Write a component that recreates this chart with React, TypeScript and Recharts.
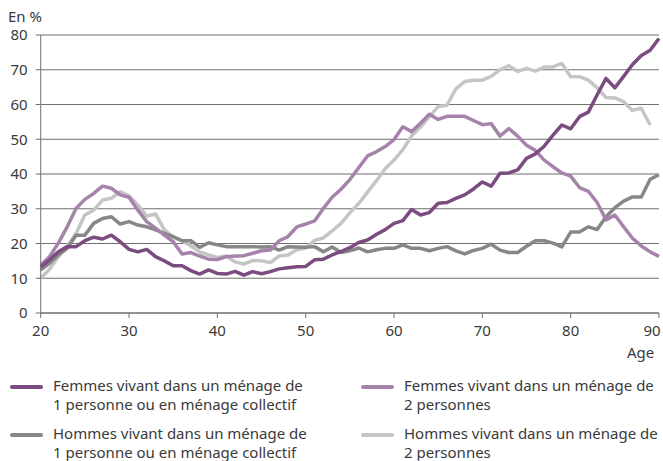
import React from 'react';
import { LineChart, Line, XAxis, YAxis, CartesianGrid } from 'recharts';

const ages = [
  20, 21, 22, 23, 24, 25, 26, 27, 28, 29, 30, 31, 32, 33, 34, 35, 36, 37, 38, 39,
  40, 41, 42, 43, 44, 45, 46, 47, 48, 49, 50, 51, 52, 53, 54, 55, 56, 57, 58, 59,
  60, 61, 62, 63, 64, 65, 66, 67, 68, 69, 70, 71, 72, 73, 74, 75, 76, 77, 78, 79,
  80, 81, 82, 83, 84, 85, 86, 87, 88, 89, 90,
];

const femmes1 = [
  13.3, 15.3, 17.6, 19.1, 19.1, 20.8, 21.8, 21.3, 22.4, 20.5, 18.3, 17.6, 18.3, 16.2, 15.0, 13.6, 13.6, 12.2, 11.2, 12.4,
  11.4, 11.2, 12.0, 10.9, 11.9, 11.3, 11.9, 12.7, 13.0, 13.3, 13.4, 15.3, 15.5, 16.7, 17.7, 18.8, 20.3, 21.0, 22.6, 24.0,
  25.8, 26.6, 29.8, 28.2, 28.9, 31.6, 31.8, 33.0, 34.0, 35.7, 37.7, 36.5, 40.2, 40.3, 41.2, 44.5, 45.8, 48.0, 51.2, 54.1,
  53.0, 56.5, 57.8, 62.8, 67.5, 64.8, 68.1, 71.5, 74.1, 75.6, 79.0,
];

const femmes2 = [
  13.8, 16.2, 20.1, 24.8, 30.1, 32.7, 34.4, 36.5, 35.9, 34.0, 33.3, 29.6, 26.3, 24.4, 22.4, 20.5, 17.0, 17.4, 16.4, 15.5,
  15.4, 16.2, 16.4, 16.5, 17.2, 17.9, 18.1, 20.8, 22.0, 24.8, 25.6, 26.5, 30.1, 33.3, 35.6, 38.4, 41.8, 45.2, 46.4, 47.9,
  49.9, 53.6, 52.2, 54.6, 57.2, 55.7, 56.6, 56.6, 56.6, 55.4, 54.2, 54.5, 50.9, 53.1, 50.9, 48.3, 46.8, 44.0, 42.1, 40.3,
  39.4, 36.1, 35.0, 31.8, 26.8, 28.2, 24.8, 21.5, 19.3, 17.6, 16.3,
];

const hommes1 = [
  12.4, 14.3, 16.7, 18.6, 22.4, 22.4, 25.8, 27.2, 27.7, 25.6, 26.3, 25.3, 24.8, 23.9, 22.9, 22.0, 20.8, 20.8, 18.9, 20.2,
  19.6, 19.1, 19.1, 19.1, 19.1, 19.0, 19.1, 18.1, 19.1, 19.0, 18.9, 19.1, 17.6, 19.0, 17.4, 17.9, 18.7, 17.6, 18.2, 18.6,
  18.6, 19.6, 18.6, 18.6, 17.9, 18.6, 19.1, 17.9, 17.0, 18.0, 18.6, 19.8, 18.1, 17.4, 17.4, 19.2, 20.8, 20.8, 20.1, 19.0,
  23.3, 23.3, 24.8, 24.0, 27.7, 30.3, 32.2, 33.4, 33.4, 38.5, 39.8,
];

const hommes2 = [
  10.0, 12.6, 16.2, 19.1, 22.9, 28.2, 29.6, 32.5, 33.0, 34.9, 33.7, 31.1, 27.9, 28.5, 23.9, 21.8, 20.8, 19.3, 17.6, 16.7,
  16.0, 16.4, 14.7, 14.1, 15.1, 15.0, 14.5, 16.4, 16.7, 18.2, 18.7, 20.9, 21.6, 23.6, 25.8, 28.8, 31.5, 34.8, 38.0, 41.5,
  44.0, 47.0, 51.0, 53.5, 56.5, 59.4, 59.8, 64.5, 66.6, 67.0, 67.0, 68.1, 70.0, 71.2, 69.5, 70.4, 69.6, 70.8, 70.8, 71.8,
  68.0, 68.0, 67.0, 64.8, 62.0, 61.9, 60.8, 58.3, 58.9, 54.1, null,
];

const xTicks = [20, 30, 40, 50, 60, 70, 80, 90];
const yTicks = [0, 10, 20, 30, 40, 50, 60, 70, 80];

const seriesNames = [
  'Femmes vivant dans un ménage de 1 personne ou en ménage collectif',
  'Femmes vivant dans un ménage de 2 personnes',
  'Hommes vivant dans un ménage de 1 personne ou en ménage collectif',
  'Hommes vivant dans un ménage de 2 personnes',
];

const legendLines = [
  ['Femmes vivant dans un ménage de', '1 personne ou en ménage collectif'],
  ['Femmes vivant dans un ménage de', '2 personnes'],
  ['Hommes vivant dans un ménage de', '1 personne ou en ménage collectif'],
  ['Hommes vivant dans un ménage de', '2 personnes'],
];

const colors = ['#7b4c80', '#a683aa', '#878787', '#c5c5c5'];
const keys = ['f1', 'f2', 'h1', 'h2'];

const data = ages.map((age, i) => ({
  age,
  f1: femmes1[i],
  f2: femmes2[i],
  h1: hommes1[i],
  h2: hommes2[i],
}));

const FONT = '"Noto Sans", sans-serif';
const TEXT = '#3a3a3a';

const legendPos = [
  { left: 10, top: 376 },
  { left: 361, top: 376 },
  { left: 10, top: 424 },
  { left: 361, top: 424 },
];

const XTick = (props: any) => {
  const { x, y, payload } = props;
  const last = payload.value === 90;
  return (
    <text
      x={last ? x - 7 : x}
      y={y}
      dy="0.71em"
      textAnchor="middle"
      fill={TEXT}
      fontSize={15}
      fontFamily={FONT}
    >
      {payload.value}
    </text>
  );
};

export default function App() {
  return (
    <div style={{ position: 'absolute', left: 0, top: 0, width: 663, height: 461, background: '#fff', overflow: 'hidden', fontFamily: FONT }}>
      <div style={{ position: 'absolute', left: 8, top: 7, fontSize: 15, color: TEXT, lineHeight: '18px' }}>En %</div>
      <LineChart
        width={663}
        height={345}
        data={data}
        margin={{ top: 35, right: 4, left: 0, bottom: 0 }}
        style={{ position: 'absolute', left: 0, top: 0, overflow: 'visible' }}
      >
        <CartesianGrid horizontal vertical={false} stroke="#6f6f6f" strokeWidth={1} />
        <XAxis
          dataKey="age"
          type="number"
          domain={[20, 90]}
          ticks={xTicks}
          height={32}
          tickSize={5}
          tickMargin={7}
          stroke="#6f6f6f"
          tick={<XTick />}
          interval={0}
        />
        <YAxis
          type="number"
          domain={[0, 80]}
          ticks={yTicks}
          width={40.7}
          tickSize={5}
          tickMargin={8}
          stroke="#6f6f6f"
          tick={{ fill: TEXT, fontSize: 15, fontFamily: FONT }}
          interval={0}
        />
        {keys.map((k, i) => (
          <Line
            key={k}
            dataKey={k}
            name={seriesNames[i]}
            stroke={colors[i]}
            strokeWidth={3.5}
            dot={false}
            type="linear"
            isAnimationActive={false}
            strokeLinejoin="round"
          />
        )).reverse()}
      </LineChart>
      <div style={{ position: 'absolute', left: 627, top: 343, fontSize: 15, color: TEXT, lineHeight: '18px' }}>Age</div>
      {legendLines.map((lines, i) => (
        <div key={i} style={{ position: 'absolute', left: legendPos[i].left, top: legendPos[i].top, display: 'flex', alignItems: 'flex-start' }}>
          <div style={{ width: 33, height: 4, borderRadius: 2, background: colors[i], marginTop: 9, marginRight: 10 }} />
          <div style={{ fontSize: 15, color: TEXT, lineHeight: '19px', whiteSpace: 'nowrap' }}>
            {lines[0]}
            <br />
            {lines[1]}
          </div>
        </div>
      ))}
    </div>
  );
}
